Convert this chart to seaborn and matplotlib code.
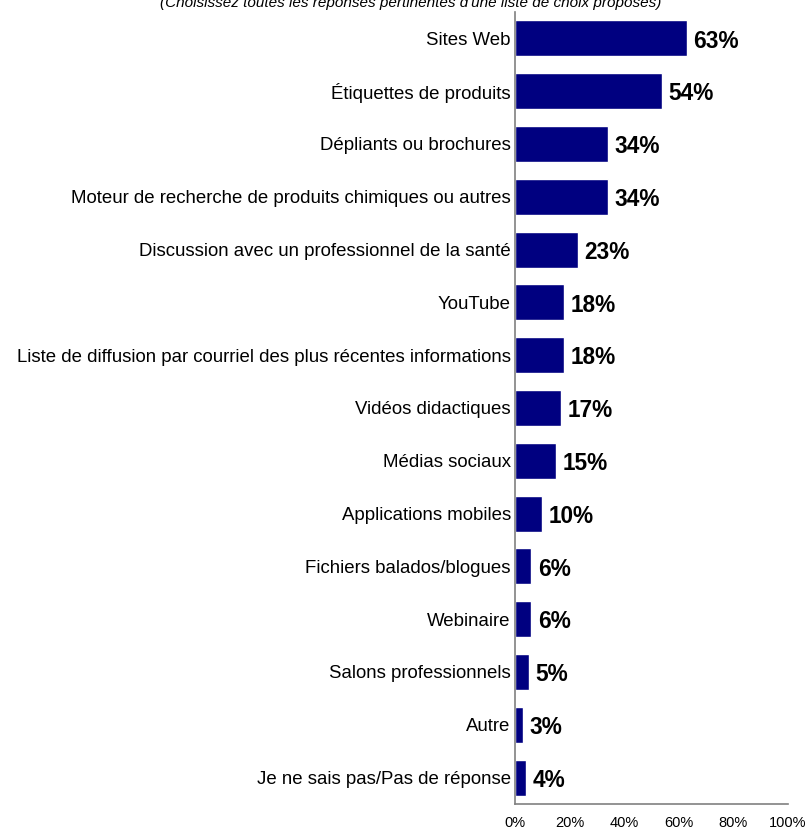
import matplotlib
matplotlib.use("Agg")
import matplotlib.pyplot as plt
import seaborn as sns
import pandas as pd

categories = [
    "Sites Web",
    "Étiquettes de produits",
    "Dépliants ou brochures",
    "Moteur de recherche de produits chimiques ou autres",
    "Discussion avec un professionnel de la santé",
    "YouTube",
    "Liste de diffusion par courriel des plus récentes informations",
    "Vidéos didactiques",
    "Médias sociaux",
    "Applications mobiles",
    "Fichiers balados/blogues",
    "Webinaire",
    "Salons professionnels",
    "Autre",
    "Je ne sais pas/Pas de réponse",
]
values = [63, 54, 34, 34, 23, 18, 18, 17, 15, 10, 6, 6, 5, 3, 4]
x_ticks = [0, 20, 40, 60, 80, 100]
x_tick_labels = ["0%", "20%", "40%", "60%", "80%", "100%"]
subtitle = "(Choisissez toutes les réponses pertinentes d'une liste de choix proposés)"

df = pd.DataFrame({"categorie": categories, "pourcentage": values})

sns.set_style("white")
plt.rcParams["font.family"] = ["Liberation Sans", "DejaVu Sans"]
plt.rcParams["text.color"] = "black"
plt.rcParams["xtick.color"] = "black"
plt.rcParams["ytick.color"] = "black"

fig = plt.figure(figsize=(8.11, 8.31), dpi=100)
ax = fig.add_axes([515 / 811, 1 - 804 / 831, 273 / 811, 792 / 831])

sns.barplot(data=df, y="categorie", x="pourcentage", orient="h",
            color="#000080", saturation=1, width=0.68, ax=ax)

ax.set_xlim(0, 100)
ax.set_ylim(14.5, -0.5)
ax.set_xticks(x_ticks)
ax.set_xticklabels(x_tick_labels, fontsize=10.5)
ax.set_xlabel("")
ax.set_ylabel("")
ax.set_yticks(range(len(categories)))
ax.set_yticklabels(categories, fontsize=13.4)

ax.tick_params(axis="x", direction="inout", length=5, width=1, color="#808080",
               labelcolor="black", pad=6)
ax.tick_params(axis="y", length=0, pad=3, labelcolor="black")

for side in ["top", "right"]:
    ax.spines[side].set_visible(False)
for side in ["left", "bottom"]:
    ax.spines[side].set_color("#808080")
    ax.spines[side].set_linewidth(1.2)

for i, v in enumerate(values):
    ax.annotate(f"{v}%", xy=(v, i), xytext=(4.5, -2), textcoords="offset points",
                ha="left", va="center", fontsize=16.3, fontweight="bold",
                color="black")

fig.text(411 / 811, 1 - 7.5 / 831, subtitle, ha="center", va="baseline",
         fontsize=11, style="italic", color="black")

fig.savefig("out.png", dpi=100)
